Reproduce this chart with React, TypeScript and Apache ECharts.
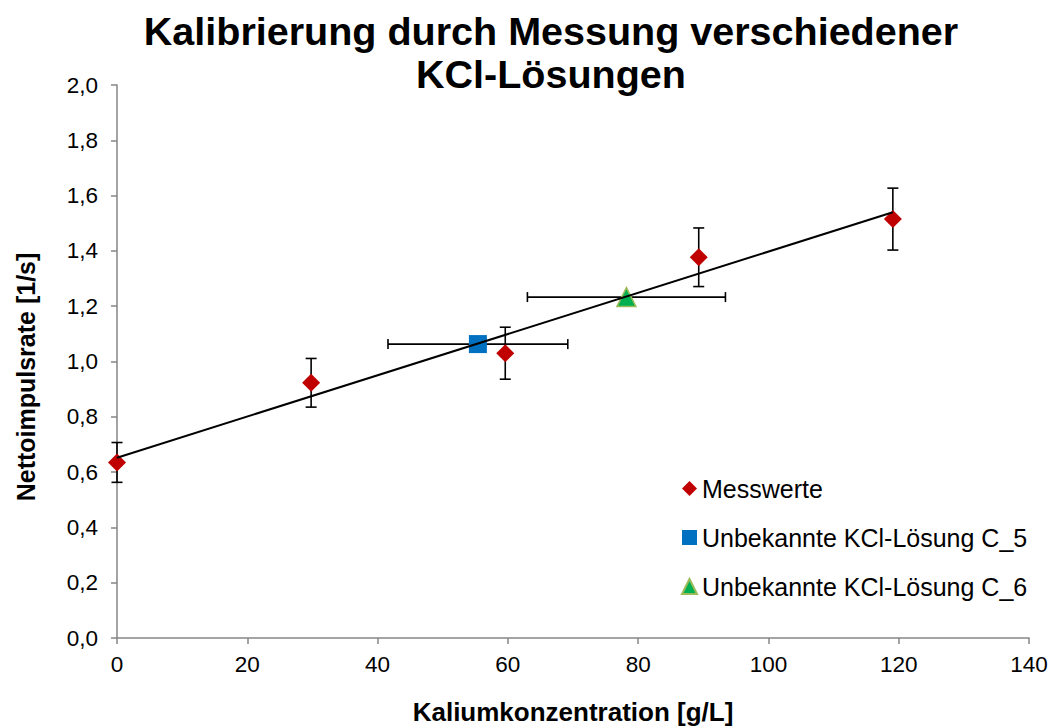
import React, { useEffect, useRef } from "react";
import * as echarts from "echarts";

// Messwerte (measured values) with vertical error
const messX = [0, 29.8, 59.6, 89.3, 119.1];
const messY = [0.635, 0.923, 1.03, 1.377, 1.515];
const messErr = [0.072, 0.088, 0.094, 0.106, 0.112];

// Unknown solutions with horizontal error
const c5X = [55.4];
const c5Y = [1.063];
const c5XErr = [13.8];

const c6X = [78.2];
const c6Y = [1.233];
const c6XErr = [15.2];

// Calibration line end points
const trendX = [0, 119.1];
const trendY = [0.652, 1.54];

const seriesNames = [
  "Messwerte",
  "Unbekannte KCl-Lösung C_5",
  "Unbekannte KCl-Lösung C_6",
];

const titleText = "Kalibrierung durch Messung verschiedener\nKCl-Lösungen";
const xName = "Kaliumkonzentration [g/L]";
const yName = "Nettoimpulsrate [1/s]";

const FONT = "'Liberation Sans', Arial, Helvetica, sans-serif";

export default function App() {
  const ref = useRef<HTMLDivElement>(null);

  useEffect(() => {
    if (!ref.current) return;
    const chart = echarts.init(ref.current, undefined, { renderer: "svg" });

    const vErrData = messX.map((x, i) => [x, messY[i], messY[i] - messErr[i], messY[i] + messErr[i]]);
    const hErrData = [
      ...c5X.map((x, i) => [x, c5Y[i], x - c5XErr[i], x + c5XErr[i]]),
      ...c6X.map((x, i) => [x, c6Y[i], x - c6XErr[i], x + c6XErr[i]]),
    ];

    const barStyle = { stroke: "#000", lineWidth: 1.6 };

    const option: any = {
      animation: false,
      backgroundColor: "#fff",
      textStyle: { fontFamily: FONT },
      grid: { left: 117, right: 29, top: 85, bottom: 88, containLabel: false },
      xAxis: {
        type: "value",
        min: 0,
        max: 140,
        interval: 20,
        axisLine: { show: true, onZero: false, lineStyle: { color: "#868686", width: 1.5 } },
        axisTick: { show: true, length: 6, lineStyle: { color: "#868686", width: 1.5 } },
        splitLine: { show: false },
        axisLabel: { color: "#000", fontSize: 22.5, margin: 15, fontFamily: FONT },
      },
      yAxis: {
        type: "value",
        min: 0,
        max: 2,
        interval: 0.2,
        axisLine: { show: true, onZero: false, lineStyle: { color: "#868686", width: 1.5 } },
        axisTick: { show: true, length: 6, lineStyle: { color: "#868686", width: 1.5 } },
        splitLine: { show: false },
        axisLabel: {
          color: "#000",
          fontSize: 22.5,
          margin: 19,
          fontFamily: FONT,
          formatter: (v: number) => v.toFixed(1).replace(".", ","),
        },
      },
      legend: {
        data: seriesNames,
        orient: "vertical",
        left: 676,
        top: 471,
        itemWidth: 15,
        itemHeight: 15,
        itemGap: 24,
        textStyle: { color: "#000", fontSize: 25, lineHeight: 25, fontFamily: FONT },
        selectedMode: false,
      },
      graphic: [
        {
          type: "text",
          x: 551,
          y: 9,
          style: {
            text: titleText,
            textAlign: "center",
            font: `bold 39.5px ${FONT}`,
            lineHeight: 43,
            fill: "#000",
          },
        },
        {
          type: "text",
          x: 573,
          y: 712,
          style: {
            text: xName,
            textAlign: "center",
            textVerticalAlign: "middle",
            font: `bold 26px ${FONT}`,
            fill: "#000",
          },
        },
        {
          type: "text",
          x: 26,
          y: 377,
          rotation: Math.PI / 2,
          style: {
            text: yName,
            textAlign: "center",
            textVerticalAlign: "middle",
            font: `bold 25px ${FONT}`,
            fill: "#000",
          },
        },
      ],
      series: [
        {
          type: "custom",
          name: "vErr",
          z: 2,
          silent: true,
          data: vErrData,
          encode: { x: 0, y: 1 },
          renderItem: (params: any, api: any) => {
            const x = api.value(0);
            const lo = api.coord([x, api.value(2)]);
            const hi = api.coord([x, api.value(3)]);
            const w = 5.5;
            return {
              type: "group",
              children: [
                { type: "line", shape: { x1: lo[0], y1: lo[1], x2: hi[0], y2: hi[1] }, style: barStyle },
                { type: "line", shape: { x1: lo[0] - w, y1: lo[1], x2: lo[0] + w, y2: lo[1] }, style: barStyle },
                { type: "line", shape: { x1: hi[0] - w, y1: hi[1], x2: hi[0] + w, y2: hi[1] }, style: barStyle },
              ],
            };
          },
        },
        {
          type: "custom",
          name: "hErr",
          z: 2,
          silent: true,
          data: hErrData,
          encode: { x: 0, y: 1 },
          renderItem: (params: any, api: any) => {
            const y = api.value(1);
            const lo = api.coord([api.value(2), y]);
            const hi = api.coord([api.value(3), y]);
            const h = 5;
            return {
              type: "group",
              children: [
                { type: "line", shape: { x1: lo[0], y1: lo[1], x2: hi[0], y2: hi[1] }, style: barStyle },
                { type: "line", shape: { x1: lo[0], y1: lo[1] - h, x2: lo[0], y2: lo[1] + h }, style: barStyle },
                { type: "line", shape: { x1: hi[0], y1: hi[1] - h, x2: hi[0], y2: hi[1] + h }, style: barStyle },
              ],
            };
          },
        },
        {
          type: "scatter",
          name: seriesNames[0],
          symbol: "diamond",
          symbolSize: 18,
          z: 3,
          itemStyle: { color: "#c00000", opacity: 1 },
          data: messX.map((x, i) => [x, messY[i]]),
        },
        {
          type: "scatter",
          name: seriesNames[1],
          symbol: "rect",
          symbolSize: 18,
          z: 3,
          itemStyle: { color: "#0070c0", opacity: 1 },
          data: c5X.map((x, i) => [x, c5Y[i]]),
        },
        {
          type: "scatter",
          name: seriesNames[2],
          symbol: "triangle",
          symbolSize: 19,
          z: 3,
          itemStyle: { color: "#00b050", borderColor: "#9bbb59", borderWidth: 1.5, opacity: 1 },
          data: c6X.map((x, i) => [x, c6Y[i]]),
        },
        {
          type: "line",
          name: "Trend",
          z: 4,
          showSymbol: false,
          symbol: "none",
          silent: true,
          lineStyle: { color: "#000", width: 2 },
          data: trendX.map((x, i) => [x, trendY[i]]),
        },
      ],
    };

    chart.setOption(option);
    return () => chart.dispose();
  }, []);

  return (
    <div
      ref={ref}
      style={{ position: "fixed", left: 0, top: 0, width: 1058, height: 726 }}
    />
  );
}
